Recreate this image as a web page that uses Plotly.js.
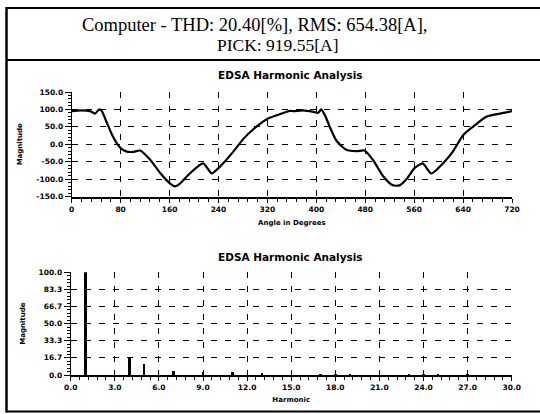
<!DOCTYPE html>
<html><head><meta charset="utf-8">
<script src="https://cdn.plot.ly/plotly-3.0.1.min.js"></script>
<style>html,body{margin:0;padding:0;background:#fff;}#chart{width:540px;height:414px;}</style>
</head><body><div id="chart"></div>
<script>
// Waveform (top chart)
const angleDeg = [0, 15, 30, 38, 45, 49, 57, 65, 74, 82, 90, 100, 112, 128, 144, 161, 169, 177, 193, 215, 229, 242, 264, 280, 297, 319, 335, 357, 363, 378, 395, 403, 408, 415, 422, 433, 449, 466, 479, 493, 509, 525, 536, 547, 561, 574, 588, 607, 623, 640, 656, 678, 700, 720];
const waveMag  = [95, 97, 95, 88, 100, 96, 64, 31, 2, -14, -21, -22, -18, -44, -81, -113, -121, -113, -84, -55, -84, -65, -22, 14, 43, 72, 83, 96, 95, 97, 93, 90, 100, 80, 50, 10, -16, -20, -18, -46, -91, -118, -118, -101, -68, -55, -84, -55, -22, 26, 50, 79, 88, 95];
// Harmonic spectrum (bottom chart)
const harmonicNo  = [1, 4, 5, 7, 9, 11, 13, 17, 18, 19, 23, 24, 25, 27];
const harmonicMag = [100, 17, 11, 4, 2.5, 3, 1.5, 1, 1.2, 1, 1, 1.2, 0.8, 0.8];
// Tick labels
const angleTicks = [0, 80, 160, 240, 320, 400, 480, 560, 640, 720];
const angleGrid = [80, 160, 240, 320, 400, 480, 560, 640, 720];
const magTicks = [-150, -100, -50, 0, 50, 100, 150];
const magTickText = ['-150.0', '-100.0', '-50.0', '0.0', '50.0', '100.0', '150.0'];
const magGrid = [-100, -50, 0, 50, 100];
const harmTicks = [0, 3, 6, 9, 12, 15, 18, 21, 24, 27, 30];
const harmTickText = ['0.0', '3.0', '6.0', '9.0', '12.0', '15.0', '18.0', '21.0', '24.0', '27.0', '30.0'];
const harmGrid = [3, 6, 9, 12, 15, 18, 21, 24, 27, 30];
const pctTicks = [0, 16.7, 33.3, 50, 66.7, 83.3, 100];
const pctTickText = ['0.0', '16.7', '33.3', '50.0', '66.7', '83.3', '100.0'];
const pctGrid = [16.7, 33.3, 50, 66.7, 83.3];

const titleLine1 = 'Computer - THD: 20.40[%], RMS: 654.38[A],';
const titleLine2 = 'PICK: 919.55[A]';
const chartTitle = 'EDSA Harmonic Analysis';

const bold = 'DejaVu Sans';
const tickFont = {family: bold, size: 7.5, color: '#000', weight: 'bold'};
const axTitleFont = {family: bold, size: 7, color: '#000', weight: 'bold'};

const topX = [71.7/540, 512/540];
const topY = [1-196.5/414, 1-92/414];
const botX = [70.7/540, 511.7/540];
const botY = [1-375/414, 1-272.3/414];

const traces = [
  {x: angleDeg, y: waveMag, type: 'scatter', mode: 'lines', xaxis: 'x', yaxis: 'y',
   line: {color: '#000', width: 2.2, shape: 'spline', smoothing: 0.6}, hoverinfo: 'skip'},
  {x: harmonicNo, y: harmonicMag, type: 'bar', xaxis: 'x2', yaxis: 'y2', width: 0.17,
   marker: {color: '#000', line: {width: 0}}, hoverinfo: 'skip'},
  {x: [null], y: [null], type: 'scatter', mode: 'lines', xaxis: 'x3', yaxis: 'y3', hoverinfo: 'skip'},
  {x: [null], y: [null], type: 'scatter', mode: 'lines', xaxis: 'x4', yaxis: 'y4', hoverinfo: 'skip'}
];

const gridDash = '6px,8px';
const layout = {
  width: 540, height: 414,
  margin: {l: 0, r: 0, t: 0, b: 0},
  paper_bgcolor: '#fff', plot_bgcolor: 'rgba(0,0,0,0)',
  showlegend: false,
  bargap: 0,
  xaxis: {domain: topX, anchor: 'y', range: [0, 720], tickmode: 'array', tickvals: angleTicks,
    ticks: 'outside', ticklen: 4, tickwidth: 1, tickcolor: '#000',
    showline: true, linewidth: 2, linecolor: '#000', showgrid: false, zeroline: false,
    minor: {dtick: 16, tick0: 0, ticks: 'outside', ticklen: 3, tickwidth: 1, tickcolor: '#000', showgrid: false},
    tickfont: tickFont,
    title: {text: 'Angle in Degrees', font: axTitleFont, standoff: 8}},
  yaxis: {domain: topY, anchor: 'x', range: [-150, 150], tickmode: 'array', tickvals: magTicks, ticktext: magTickText,
    ticks: 'outside', ticklen: 6, tickwidth: 1, tickcolor: '#000',
    showline: true, linewidth: 1, linecolor: '#000', showgrid: false, zeroline: false,
    minor: {dtick: 10, tick0: 0, ticks: 'outside', ticklen: 3, tickwidth: 1, tickcolor: '#000', showgrid: false},
    tickfont: tickFont,
    title: {text: 'Magnitude', font: axTitleFont, standoff: 12}},
  xaxis3: {overlaying: 'x', anchor: 'y3', range: [0, 720], tickmode: 'array', tickvals: angleGrid,
    showticklabels: false, ticks: '', showline: false, zeroline: false,
    showgrid: true, gridcolor: '#000', gridwidth: 1, griddash: gridDash},
  yaxis3: {overlaying: 'y', anchor: 'x3', range: [-150, 150], tickmode: 'array', tickvals: magGrid,
    showticklabels: false, ticks: '', showline: false, zeroline: false,
    showgrid: true, gridcolor: '#000', gridwidth: 1, griddash: gridDash},
  xaxis2: {domain: botX, anchor: 'y2', range: [0, 30], tickmode: 'array', tickvals: harmTicks, ticktext: harmTickText,
    ticks: 'outside', ticklen: 4, tickwidth: 1, tickcolor: '#000',
    showline: true, linewidth: 2, linecolor: '#000', showgrid: false, zeroline: false,
    minor: {dtick: 0.6, tick0: 0, ticks: 'outside', ticklen: 3, tickwidth: 1, tickcolor: '#000', showgrid: false},
    tickfont: tickFont,
    title: {text: 'Harmonic', font: axTitleFont, standoff: 6}},
  yaxis2: {domain: botY, anchor: 'x2', range: [0, 100], tickmode: 'array', tickvals: pctTicks, ticktext: pctTickText,
    ticks: 'outside', ticklen: 6, tickwidth: 1, tickcolor: '#000',
    showline: true, linewidth: 1, linecolor: '#000', showgrid: false, zeroline: false,
    minor: {dtick: 3.333, tick0: 0, ticks: 'outside', ticklen: 3, tickwidth: 1, tickcolor: '#000', showgrid: false},
    tickfont: tickFont,
    title: {text: 'Magnitude', font: axTitleFont, standoff: 12}},
  xaxis4: {overlaying: 'x2', anchor: 'y4', range: [0, 30], tickmode: 'array', tickvals: harmGrid,
    showticklabels: false, ticks: '', showline: false, zeroline: false,
    showgrid: true, gridcolor: '#000', gridwidth: 1, griddash: gridDash},
  yaxis4: {overlaying: 'y2', anchor: 'x4', range: [0, 100], tickmode: 'array', tickvals: pctGrid,
    showticklabels: false, ticks: '', showline: false, zeroline: false,
    showgrid: true, gridcolor: '#000', gridwidth: 1, griddash: gridDash},
  shapes: [
    {type: 'line', xref: 'paper', yref: 'paper', x0: 6.5/540, x1: 1, y0: 1-8/414, y1: 1-8/414, line: {color: '#000', width: 2}},
    {type: 'line', xref: 'paper', yref: 'paper', x0: 6.5/540, x1: 1, y0: 1-60/414, y1: 1-60/414, line: {color: '#000', width: 2}},
    {type: 'line', xref: 'paper', yref: 'paper', x0: 6.5/540, x1: 1, y0: 1-411.5/414, y1: 1-411.5/414, line: {color: '#000', width: 2}},
    {type: 'line', xref: 'paper', yref: 'paper', x0: 6.5/540, x1: 6.5/540, y0: 1-7/414, y1: 1-412.5/414, line: {color: '#000', width: 2.5}}
  ],
  annotations: [
    {text: titleLine1, xref: 'paper', yref: 'paper', x: 254/540, y: 1-25/414, showarrow: false,
     xanchor: 'center', yanchor: 'middle', font: {family: 'Liberation Serif', size: 18.5, color: '#000'}},
    {text: titleLine2, xref: 'paper', yref: 'paper', x: 278/540, y: 1-45/414, showarrow: false,
     xanchor: 'center', yanchor: 'middle', font: {family: 'Liberation Serif', size: 17.5, color: '#000'}},
    {text: chartTitle, xref: 'paper', yref: 'paper', x: 290/540, y: 1-75/414, showarrow: false,
     xanchor: 'center', yanchor: 'middle', font: {family: bold, size: 10.5, color: '#000', weight: 'bold'}},
    {text: chartTitle, xref: 'paper', yref: 'paper', x: 290/540, y: 1-257/414, showarrow: false,
     xanchor: 'center', yanchor: 'middle', font: {family: bold, size: 10.5, color: '#000', weight: 'bold'}}
  ]
};
Plotly.newPlot('chart', traces, layout, {staticPlot: true, displayModeBar: false});
</script></body></html>
